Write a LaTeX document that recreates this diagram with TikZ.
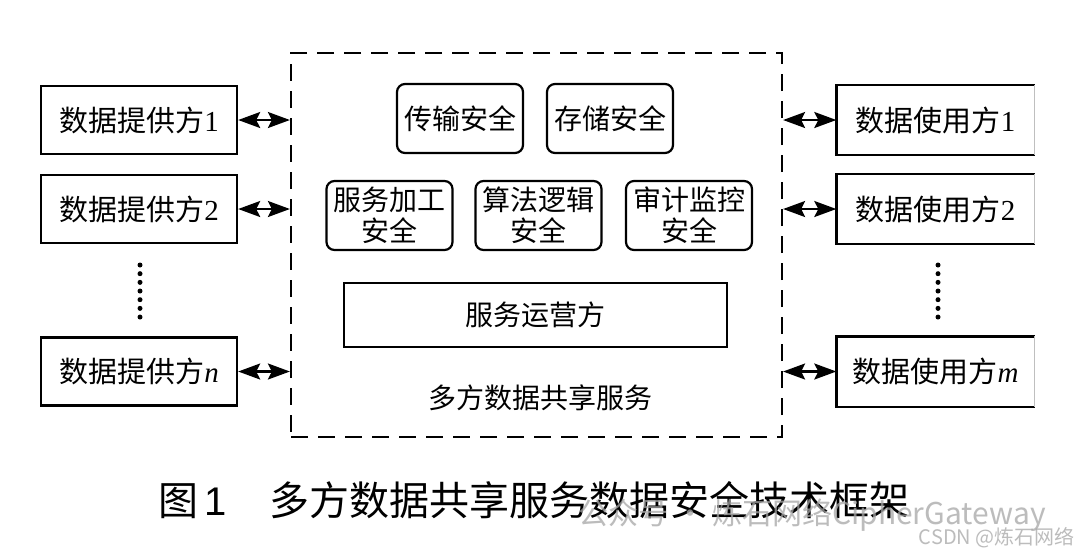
\documentclass[tikz,border=0pt]{standalone}
\usepackage{fontspec}
\setmainfont{Liberation Serif}
\newfontfamily\cjk{Noto Sans CJK SC}
\newfontfamily\latinsans{Liberation Sans}
\usetikzlibrary{arrows.meta}
\begin{document}
\begin{tikzpicture}[x=0.5pt,y=-0.5pt,
  box/.style={draw,line width=1.2pt,minimum width=98pt,minimum height=34pt,inner sep=0pt,font=\fontsize{14.5pt}{17pt}\selectfont},
  rbox/.style={box,draw=none},
  sec/.style={draw,line width=1.1pt,rounded corners=4pt,minimum width=63pt,minimum height=34.5pt,inner sep=0pt,align=center,font=\cjk\fontsize{14pt}{15.5pt}\selectfont},
  opbox/.style={draw,line width=1.2pt,minimum width=191.5pt,minimum height=32pt,inner sep=0pt,font=\cjk\fontsize{14pt}{16pt}\selectfont},
  frame/.style={draw,line width=1.1pt,dash pattern=on 8.5pt off 5pt,minimum width=245.5pt,minimum height=192pt,inner sep=0pt},
  dbl/.style={{Stealth[length=11pt,width=8pt,inset=2pt]}-{Stealth[length=11pt,width=8pt,inset=2pt]},line width=1.1pt},
  wm/.style={text=black!35,opacity=0.75,inner sep=0pt}
]
\useasboundingbox[fill=white] (0,0) rectangle (1079,554);
% frame
\node[frame] (F) at (536.5,245) {};
% left boxes
\node[box] (L1) at (139,120) {{\cjk 数据提供方}1};
\node[box] (L2) at (139,209) {{\cjk 数据提供方}2};
\node[box] (Ln) at (139,371.5) {{\cjk 数据提供方}\textit{n}};
% right boxes
\node[rbox] (R1) at (935.5,120) {{\cjk 数据使用方}1};
\node[rbox] (R2) at (935.5,209) {{\cjk 数据使用方}2};
\node[rbox] (Rm) at (935.5,371.5) {{\cjk 数据使用方}\textit{m}};
\foreach \r in {R1,R2,Rm}{
  \draw[line width=1.2pt] (\r.north east) -- (\r.north west) -- (\r.south west) -- (\r.south east);
  \draw[black!25,line width=0.4pt] (\r.north east) -- (\r.south east);
}
% dots
\foreach \k in {0,...,6}{
  \fill (140,265+\k*8.67) circle (1.25pt);
  \fill (938,265+\k*8.67) circle (1.25pt);
}
% inner security boxes
\node[sec] (S1) at (460,118.5) {传输安全};
\node[sec] (S2) at (610,118.5) {存储安全};
\node[sec] (S3) at (389.5,215.5) {服务加工\\安全};
\node[sec] (S4) at (538.5,215.5) {算法逻辑\\安全};
\node[sec] (S5) at (689,215.5) {审计监控\\安全};
\node[opbox] (OP) at (535.5,315) {服务运营方};
\node[font=\cjk\fontsize{14pt}{16pt}\selectfont] (FL) at (540,398) {多方数据共享服务};
% arrows
\draw[dbl] (L1.east) -- (L1.east -| F.west);
\draw[dbl] (L2.east) -- (L2.east -| F.west);
\draw[dbl] (Ln.east) -- (Ln.east -| F.west);
\draw[dbl] (R1.west) -- (R1.west -| F.east);
\draw[dbl] (R2.west) -- (R2.west -| F.east);
\draw[dbl] (Rm.west) -- (Rm.west -| F.east);
% caption
\node[anchor=west,inner sep=0pt,font=\cjk\fontsize{20pt}{22pt}\selectfont] (cap) at (158,500) {图\hspace{0.15em}{\latinsans 1}\hspace{1.07em}多方数据共享服务数据安全技术框架};
% watermark
\node[wm,anchor=east,font=\cjk\fontsize{15pt}{17pt}\selectfont] (wm1) at (1046,515) {公众号 · 炼石网络CipherGateway};
\node[wm,anchor=east,font=\cjk\fontsize{10pt}{12pt}\selectfont] (wm2) at (1075,538) {CSDN @炼石网络};
\end{tikzpicture}
\end{document}
